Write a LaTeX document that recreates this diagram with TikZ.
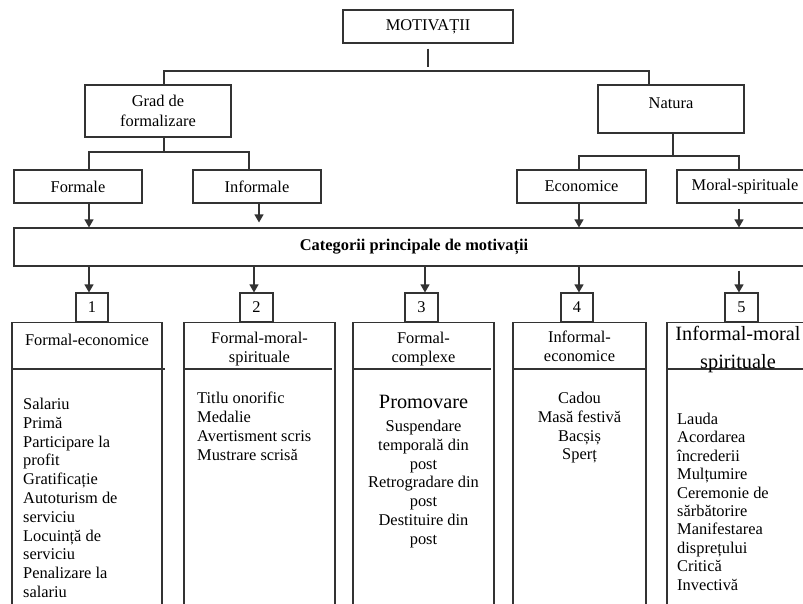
\documentclass[tikz,border=0pt]{standalone}
\usepackage{fontspec}
\setmainfont{Liberation Serif}
\usetikzlibrary{arrows.meta}
\newcommand\bigfnt{\fontsize{20.3}{28}\selectfont}
\begin{document}
\begin{tikzpicture}[x=1pt,y=-1pt,
  every node/.style={font=\fontsize{16.4}{19}\selectfont, text=black},
  ln/.style={line width=1.1pt, draw=black!80},
  box/.style={ln, rectangle, inner sep=0pt, align=center},
  arr/.style={ln, -{Triangle[width=9pt,length=8pt]}},
  items/.style={inner sep=0pt, font=\fontsize{16.4}{18.8}\selectfont},
  hdr/.style={inner sep=0pt, align=center}]
\useasboundingbox (0,0) rectangle (803,603);
\clip (0,0) rectangle (803,603);
\fill[white] (0,0) rectangle (803,603);

% top level
\node[box, minimum width=170, minimum height=33] (mot) at (428,26.5) {MOTIVAȚII};
\node[box, minimum width=146, minimum height=52, font=\fontsize{16.4}{20}\selectfont] (grad) at (158,111) {Grad de\\formalizare};
\node[box, minimum width=146, minimum height=48, text height=11pt, text depth=12pt] (nat) at (671,109) {Natura};

\coordinate (top) at (428,71);
\coordinate (gtop) at (164,71);
\coordinate (ntop) at (649,71);
\draw[ln] ([yshift=-5pt]mot.south) -- ([yshift=4pt]top);
\draw[ln] (grad.north -| gtop) -- (gtop) -- (ntop) -- (nat.north -| ntop);

% second level
\node[box, minimum width=128, minimum height=33] (formale) at (78,186.5) {Formale};
\node[box, minimum width=128, minimum height=33] (informale) at (257,186.5) {Informale};
\node[box, minimum width=129, minimum height=33] (econ) at (581.5,186.5) {Economice};
\node[box, minimum width=136, minimum height=33] (moral) at (745,186.5) {Moral-spirituale};

\coordinate (gbar) at (164,152);
\coordinate (g1) at (89,152);
\coordinate (g2) at (249,152);
\draw[ln] (grad.south -| gbar) -- (gbar);
\draw[ln] (formale.north -| g1) -- (g1) -- (g2) -- (informale.north -| g2);

\coordinate (nbar) at (673,156);
\coordinate (n1c) at (579,156);
\coordinate (n2c) at (739,156);
\draw[ln] (nat.south -| nbar) -- (nbar);
\draw[ln] (econ.north -| n1c) -- (n1c) -- (n2c) -- (moral.north -| n2c);

% categories bar
\node[box, minimum width=801, minimum height=38] (cat) at (414.5,247) {};
\node[font=\fontsize{16.4}{19}\selectfont\bfseries] (cattxt) at (414,247) {Categorii principale de motivații};

\coordinate (i1) at (259,200);
\draw[arr] (formale.south -| g1) -- (cat.north -| g1);
\draw[arr, shorten >=5pt] (informale.south -| i1) -- (cat.north -| i1);
\draw[arr] (econ.south -| n1c) -- (cat.north -| n1c);
\draw[arr, shorten <=5pt] (moral.south -| n2c) -- (cat.north -| n2c);

% numbered boxes
\node[box, minimum width=32, minimum height=29] (b1) at (92,307.5) {1};
\node[box, minimum width=33, minimum height=29] (b2) at (256.5,307.5) {2};
\node[box, minimum width=33, minimum height=29] (b3) at (421.5,307.5) {3};
\node[box, minimum width=32, minimum height=29] (b4) at (577,307.5) {4};
\node[box, minimum width=33, minimum height=29] (b5) at (741.5,307.5) {5};

\coordinate (a1) at (89,280);
\coordinate (a2) at (254,280);
\coordinate (a3) at (425,280);
\coordinate (a4) at (579,280);
\coordinate (a5) at (739,280);
\draw[arr] (cat.south -| a1) -- (b1.north -| a1);
\draw[arr] (cat.south -| a2) -- (b2.north -| a2);
\draw[arr] (cat.south -| a3) -- (b3.north -| a3);
\draw[arr] (cat.south -| a4) -- (b4.north -| a4);
\draw[arr, shorten <=4pt] (cat.south -| a5) -- (b5.north -| a5);

% columns
\node[box, minimum width=150, minimum height=300, anchor=north] (c1) at (87,322) {};
\node[box, minimum width=151, minimum height=300, anchor=north] (c2) at (259.5,322) {};
\node[box, minimum width=141, minimum height=300, anchor=north] (c3) at (423.5,322) {};
\node[box, minimum width=133, minimum height=300, anchor=north] (c4) at (579.5,322) {};
\node[box, minimum width=148, minimum height=300, anchor=north] (c5) at (741,322) {};
\draw[ln] (12,369) -- (165,369);
\draw[ln] (184,369) -- (332,369);
\draw[ln] (353,369) -- (491,369);
\draw[ln] (513,369) -- (646,369);
\draw[ln] (667,369) -- (815,369);

% headers
\node[hdr] (h1) at (87,340) {Formal-economice};
\node[hdr] (h2) at (259.5,349.5) {Formal-moral-\\spirituale};
\node[hdr] (h3) at (423.5,349) {Formal-\\complexe};
\node[hdr] (h4) at (579.5,346.5) {Informal-\\economice};
\node[hdr, font=\bigfnt] (h5) at (738,350) {Informal-moral\\spirituale};

% items
\node[items, align=left, anchor=north west] (l1) at (23,398)
  {Salariu\\Primă\\Participare la\\profit\\Gratificație\\Autoturism de\\serviciu\\Locuință de\\serviciu\\Penalizare la\\salariu};
\node[items, align=left, anchor=north west] (l2) at (197,392)
  {Titlu onorific\\Medalie\\Avertisment scris\\Mustrare scrisă};
\node[inner sep=0pt, font=\fontsize{20.3}{24}\selectfont] (prom) at (423.5,402) {Promovare};
\node[items, align=center, anchor=north] (l3) at (423.5,420)
  {Suspendare\\temporală din\\post\\Retrogradare din\\post\\Destituire din\\post};
\node[items, align=center, anchor=north] (l4) at (579.5,392)
  {Cadou\\Masă festivă\\Bacșiș\\Sperț};
\node[items, align=left, anchor=north west, font=\fontsize{16.4}{18.4}\selectfont] (l5) at (677,413)
  {Lauda\\Acordarea\\încrederii\\Mulțumire\\Ceremonie de\\sărbătorire\\Manifestarea\\disprețului\\Critică\\Invectivă};
\end{tikzpicture}
\end{document}
